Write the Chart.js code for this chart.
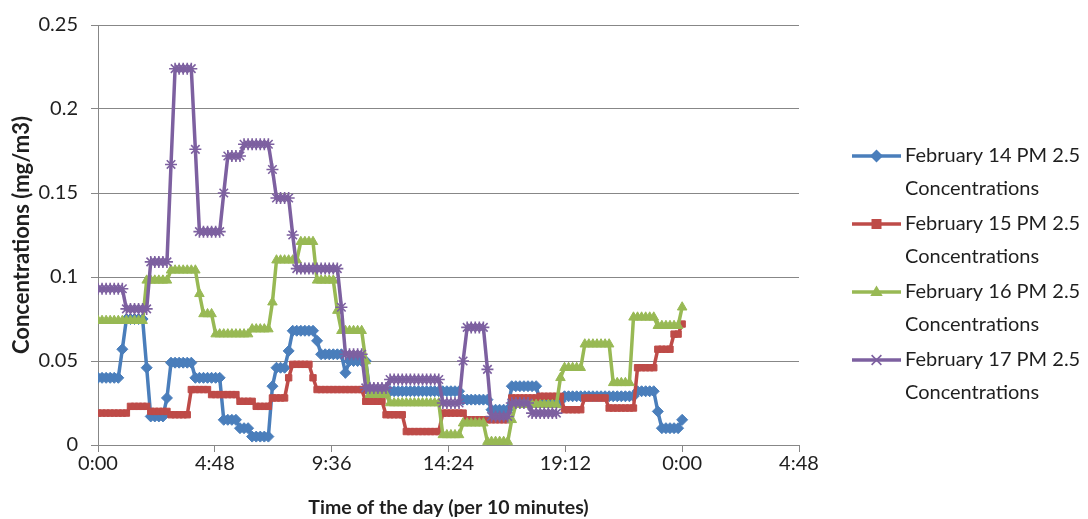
<!DOCTYPE html>
<html>
<head>
<meta charset="utf-8">
<script src="https://cdn.jsdelivr.net/npm/chart.js"></script>
<style>
  html, body { margin: 0; padding: 0; background: #ffffff; }
  #wrap { width: 1088px; height: 519px; }
</style>
</head>
<body>
<div id="wrap"><canvas id="c" width="1088" height="519"></canvas></div>
<script>
// ---- data ----
// time of day in days, one point every 10 minutes (index i -> i/144)
const xTickLabels = ['0:00', '4:48', '9:36', '14:24', '19:12', '0:00', '4:48'];

const seriesNames = [
  ['February 14 PM 2.5', 'Concentrations'],
  ['February 15 PM 2.5', 'Concentrations'],
  ['February 16 PM 2.5', 'Concentrations'],
  ['February 17 PM 2.5', 'Concentrations']
];

const feb14 = [
  0.040,0.040,0.040,0.040,0.040,0.040,0.057,0.075,0.075,0.075,
  0.075,0.075,0.046,0.017,0.017,0.017,0.017,0.028,0.049,0.049,
  0.049,0.049,0.049,0.049,0.040,0.040,0.040,0.040,0.040,0.040,
  0.040,0.015,0.015,0.015,0.015,0.010,0.010,0.010,0.005,0.005,
  0.005,0.005,0.005,0.035,0.046,0.046,0.046,0.056,0.068,0.068,
  0.068,0.068,0.068,0.068,0.062,0.054,0.054,0.054,0.054,0.054,
  0.054,0.043,0.050,0.050,0.050,0.050,0.050,0.032,0.032,0.032,
  0.032,0.032,0.032,0.032,0.032,0.032,0.032,0.032,0.032,0.032,
  0.032,0.032,0.032,0.032,0.032,0.032,0.032,0.032,0.032,0.032,
  0.027,0.027,0.027,0.027,0.027,0.027,0.027,0.021,0.021,0.021,
  0.021,0.021,0.035,0.035,0.035,0.035,0.035,0.035,0.035,0.026,
  0.026,0.026,0.026,0.026,0.026,0.029,0.029,0.029,0.029,0.029,
  0.029,0.029,0.029,0.029,0.029,0.029,0.029,0.029,0.029,0.029,
  0.029,0.029,0.029,0.032,0.032,0.032,0.032,0.032,0.020,0.010,
  0.010,0.010,0.010,0.010,0.015
];

const feb15 = [
  0.019,0.019,0.019,0.019,0.019,0.019,0.019,0.019,0.023,0.023,
  0.023,0.023,0.023,0.020,0.020,0.020,0.020,0.020,0.018,0.018,
  0.018,0.018,0.018,0.033,0.033,0.033,0.033,0.033,0.030,0.030,
  0.030,0.030,0.030,0.030,0.030,0.026,0.026,0.026,0.026,0.023,
  0.023,0.023,0.023,0.028,0.028,0.028,0.028,0.040,0.048,0.048,
  0.048,0.048,0.048,0.040,0.033,0.033,0.033,0.033,0.033,0.033,
  0.033,0.033,0.033,0.033,0.033,0.033,0.026,0.026,0.026,0.026,
  0.026,0.018,0.018,0.018,0.018,0.018,0.008,0.008,0.008,0.008,
  0.008,0.008,0.008,0.008,0.008,0.019,0.019,0.019,0.019,0.019,
  0.019,0.015,0.015,0.015,0.015,0.015,0.015,0.015,0.015,0.015,
  0.015,0.015,0.028,0.028,0.028,0.028,0.028,0.028,0.028,0.029,
  0.029,0.029,0.029,0.029,0.029,0.021,0.021,0.021,0.021,0.021,
  0.028,0.028,0.028,0.028,0.028,0.028,0.022,0.022,0.022,0.022,
  0.022,0.022,0.022,0.046,0.046,0.046,0.046,0.046,0.057,0.057,
  0.057,0.057,0.066,0.066,0.072
];

const feb16 = [
  0.074,0.074,0.074,0.074,0.074,0.074,0.074,0.074,0.074,0.074,
  0.074,0.074,0.098,0.098,0.098,0.098,0.098,0.098,0.104,0.104,
  0.104,0.104,0.104,0.104,0.104,0.090,0.078,0.078,0.078,0.066,
  0.066,0.066,0.066,0.066,0.066,0.066,0.066,0.066,0.069,0.069,
  0.069,0.069,0.069,0.085,0.110,0.110,0.110,0.110,0.110,0.110,
  0.121,0.121,0.121,0.121,0.098,0.098,0.098,0.098,0.098,0.080,
  0.068,0.068,0.068,0.068,0.068,0.068,0.050,0.030,0.030,0.030,
  0.030,0.030,0.025,0.025,0.025,0.025,0.025,0.025,0.025,0.025,
  0.025,0.025,0.025,0.025,0.025,0.006,0.006,0.006,0.006,0.006,
  0.013,0.013,0.013,0.013,0.013,0.013,0.002,0.002,0.002,0.002,
  0.002,0.002,0.015,0.024,0.024,0.024,0.024,0.024,0.024,0.024,
  0.024,0.024,0.024,0.024,0.040,0.046,0.046,0.046,0.046,0.046,
  0.060,0.060,0.060,0.060,0.060,0.060,0.060,0.037,0.037,0.037,
  0.037,0.037,0.076,0.076,0.076,0.076,0.076,0.076,0.071,0.071,
  0.071,0.071,0.071,0.071,0.082
];

const feb17 = [
  0.093,0.093,0.093,0.093,0.093,0.093,0.093,0.081,0.081,0.081,
  0.081,0.081,0.081,0.109,0.109,0.109,0.109,0.109,0.167,0.224,
  0.224,0.224,0.224,0.224,0.176,0.127,0.127,0.127,0.127,0.127,
  0.127,0.150,0.172,0.172,0.172,0.172,0.179,0.179,0.179,0.179,
  0.179,0.179,0.179,0.164,0.147,0.147,0.147,0.147,0.125,0.105,
  0.105,0.105,0.105,0.105,0.105,0.105,0.105,0.105,0.105,0.105,
  0.082,0.054,0.054,0.054,0.054,0.054,0.034,0.034,0.034,0.034,
  0.034,0.034,0.039,0.039,0.039,0.039,0.039,0.039,0.039,0.039,
  0.039,0.039,0.039,0.039,0.039,0.025,0.025,0.025,0.025,0.025,
  0.050,0.070,0.070,0.070,0.070,0.070,0.045,0.017,0.017,0.017,
  0.017,0.017,0.025,0.025,0.025,0.025,0.025,0.019,0.019,0.019,
  0.019,0.019,0.019,0.019
];

const seriesValues = [feb14, feb15, feb16, feb17];
const seriesColors = ['#4A7EBB', '#BE4B48', '#98B954', '#7D60A0'];
const seriesMarkers = ['rectRot', 'rect', 'triangle', 'star'];

const POINTS_PER_DAY = 144;
function toPoints(vals) {
  return vals.map((v, i) => ({ x: i / POINTS_PER_DAY, y: v }));
}

const FONT = 'Lato, "Open Sans", "Noto Sans", sans-serif';
const TEXT = '#1f1f1f';
const GRID = '#878787';
const markerRadius = { rectRot: 5.5, rect: 4.5, triangle: 5.5, star: 6 };

const datasets = seriesValues.map((vals, k) => ({
  label: seriesNames[k].join(' '),
  data: toPoints(vals),
  borderColor: seriesColors[k],
  backgroundColor: seriesColors[k],
  borderWidth: 3.5,
  pointStyle: seriesMarkers[k],
  pointRadius: markerRadius[seriesMarkers[k]],
  pointBorderWidth: seriesMarkers[k] === 'star' ? 1.6 : 1,
  pointBorderColor: seriesColors[k],
  pointBackgroundColor: seriesColors[k],
  tension: 0,
  order: 3 - k
}));

function drawMarker(ctx, style, x, y, r, color) {
  ctx.save();
  ctx.fillStyle = color;
  ctx.strokeStyle = color;
  ctx.lineWidth = 1.6;
  ctx.beginPath();
  if (style === 'rectRot') {
    ctx.moveTo(x, y - r); ctx.lineTo(x + r, y); ctx.lineTo(x, y + r); ctx.lineTo(x - r, y); ctx.closePath(); ctx.fill();
  } else if (style === 'rect') {
    ctx.rect(x - r, y - r, r * 2, r * 2); ctx.fill();
  } else if (style === 'triangle') {
    ctx.moveTo(x, y - r); ctx.lineTo(x + r * 0.95, y + r * 0.6); ctx.lineTo(x - r * 0.95, y + r * 0.6); ctx.closePath(); ctx.fill();
  } else {
    const d = r * 0.75;
    ctx.moveTo(x - d, y - d); ctx.lineTo(x + d, y + d);
    ctx.moveTo(x + d, y - d); ctx.lineTo(x - d, y + d);
    ctx.stroke();
  }
  ctx.restore();
}

const sideLegend = {
  id: 'sideLegend',
  afterDraw(chart) {
    const ctx = chart.ctx;
    const x0 = 852, x1 = 901, tx = 905;
    const firstY = 156, step = 68, lineGap = 33;
    ctx.save();
    ctx.font = '20px ' + FONT;
    ctx.textBaseline = 'middle';
    ctx.textAlign = 'left';
    chart.data.datasets.forEach((ds, k) => {
      const y = firstY + k * step;
      ctx.strokeStyle = ds.borderColor;
      ctx.lineWidth = 3.5;
      ctx.beginPath(); ctx.moveTo(x0, y); ctx.lineTo(x1, y); ctx.stroke();
      drawMarker(ctx, seriesMarkers[k], (x0 + x1) / 2, y, seriesMarkers[k] === 'rect' ? 5 : 6.5, ds.borderColor);
      ctx.fillStyle = TEXT;
      seriesNames[k].forEach((line, j) => ctx.fillText(line, tx, y + j * lineGap));
    });
    ctx.restore();
  }
};

new Chart(document.getElementById('c'), {
  type: 'line',
  data: { datasets },
  options: {
    responsive: false,
    animation: false,
    devicePixelRatio: 1,
    layout: { padding: { left: 0, right: 289, top: 22, bottom: 0 } },
    plugins: { legend: { display: false }, tooltip: { enabled: false } },
    scales: {
      x: {
        type: 'linear',
        min: 0, max: 1.2,
        ticks: {
          stepSize: 0.2,
          color: TEXT,
          font: { family: FONT, size: 20 },
          padding: 0,
          maxRotation: 0,
          callback: (v) => xTickLabels[Math.round(v / 0.2)]
        },
        grid: { display: true, drawOnChartArea: false, drawTicks: true, tickLength: 7, color: GRID, lineWidth: 1 },
        border: { display: true, color: GRID, width: 1 },
        title: {
          display: true, text: 'Time of the day (per 10 minutes)', color: TEXT,
          font: { family: FONT, size: 19.5, weight: 'bold' }, padding: { top: 0, bottom: 0 }
        },
        afterFit: (s) => { s.height = 74; }
      },
      y: {
        min: 0, max: 0.25,
        ticks: {
          stepSize: 0.05,
          color: TEXT,
          font: { family: FONT, size: 20 },
          padding: 13,
          callback: (v) => String(Math.round(v * 100) / 100)
        },
        grid: { color: GRID, lineWidth: 1, tickLength: 7, drawTicks: true },
        border: { display: true, color: GRID, width: 1 },
        title: {
          display: true, text: 'Concentrations (mg/m3)', color: TEXT,
          font: { family: FONT, size: 22, weight: 'bold' }, padding: { top: 9, bottom: 0 }
        },
        afterFit: (s) => { s.width = 98; }
      }
    }
  },
  plugins: [sideLegend]
});
</script>
</body>
</html>
